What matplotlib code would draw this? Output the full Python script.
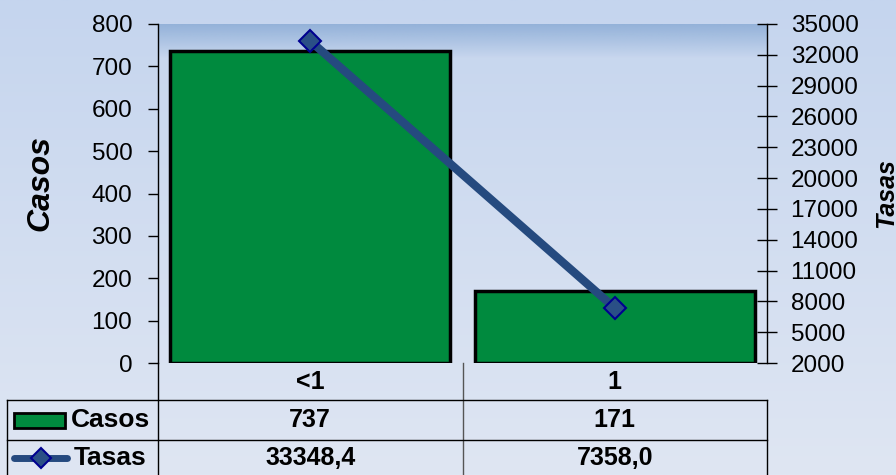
import numpy as np
import matplotlib.pyplot as plt
from matplotlib.patches import Rectangle
from matplotlib.lines import Line2D

plt.rcParams['font.family'] = ['Liberation Sans', 'DejaVu Sans']

categories = ["<1", "1"]
casos = [737, 171]
tasas = [33348.4, 7358.0]
casos_labels = ["737", "171"]
tasas_labels = ["33348,4", "7358,0"]
casos_ticks = [0, 100, 200, 300, 400, 500, 600, 700, 800]
tasas_ticks = [2000, 5000, 8000, 11000, 14000, 17000, 20000, 23000, 26000, 29000, 32000, 35000]

W, H = 896, 475
fig = plt.figure(figsize=(W / 100, H / 100), dpi=100)

# figure background gradient
bg = fig.add_axes([0, 0, 1, 1], zorder=-10)
top_c = np.array([197, 213, 238]) / 255
bot_c = np.array([223, 230, 243]) / 255
t = np.linspace(0, 1, 256)[:, None]
grad = top_c * (1 - t) + bot_c * t
bg.imshow(grad[:, None, :].repeat(2, axis=1), aspect='auto', extent=[0, 1, 0, 1])
bg.axis('off')

def fx(px):
    return px / W

def fy(py):
    return 1 - py / H

left, right, top, bottom = 158, 767, 24, 363
ax = fig.add_axes([fx(left), fy(bottom), fx(right) - fx(left), fy(top) - fy(bottom)])
ax.patch.set_alpha(0)

x = np.arange(len(categories))
ax.set_xlim(-0.5, len(categories) - 0.5)
ax.set_ylim(0, 800)

# top band gradient inside plot area
band_top = np.array([148, 178, 217]) / 255
tb = np.linspace(0, 1, 64)[:, None]
band_a = np.concatenate([np.repeat(band_top[None, :], 64, axis=0), 1 - tb], axis=1)
ax.imshow(band_a[:, None, :].repeat(2, axis=1), aspect='auto',
          extent=[-0.5, len(categories) - 0.5, 720, 800], zorder=0)

ax.bar(x, casos, width=0.92, color='#008a3e', edgecolor='black', linewidth=2.5, zorder=2)

tick_fs = 17.5
ax.set_yticks(casos_ticks)
ax.set_yticklabels([str(v) for v in casos_ticks], fontsize=tick_fs)
ax.set_xticks([])
for s in ['top', 'right', 'bottom']:
    ax.spines[s].set_visible(False)
ax.spines['left'].set_linewidth(1)
ax.tick_params(axis='y', length=7, width=1, direction='out', pad=11.5)

fig.text(fx(40), fy(183), "Casos", rotation=90, fontsize=23, fontweight='bold',
         style='italic', ha='center', va='center')

ax2 = ax.twinx()
ax2.set_ylim(2000, 35000)
ax2.plot(x, tasas, color='#254a7f', linewidth=6, solid_capstyle='round', zorder=3)
ax2.plot(x, tasas, linestyle='none', marker='D', markersize=11,
         markerfacecolor='#2a4f86', markeredgecolor='#000090', markeredgewidth=1.5, zorder=4)
ax2.set_yticks(tasas_ticks)
ax2.set_yticklabels([str(v) for v in tasas_ticks], fontsize=tick_fs)
for s in ['top', 'left', 'bottom']:
    ax2.spines[s].set_visible(False)
ax2.spines['right'].set_linewidth(1)
ax2.tick_params(axis='y', length=14, width=1, direction='inout', pad=10)
ax2.set_xlim(-0.5, len(categories) - 0.5)

fig.text(fx(886), fy(193), "Tasas", rotation=90, fontsize=18, fontweight='bold',
         style='italic', ha='center', va='center')

# data table below the chart
to_fig = lambda xd: fig.transFigure.inverted().transform(ax.transData.transform((xd, 0)))[0]
lc = 'black'
fig.add_artist(Line2D([fx(left), fx(left)], [fy(363), fy(475)], color=lc, lw=1))
fig.add_artist(Line2D([to_fig(0.5), to_fig(0.5)], [fy(363), fy(475)], color='#555555', lw=1))
fig.add_artist(Line2D([fx(right), fx(right)], [fy(400), fy(475)], color=lc, lw=1))
fig.add_artist(Line2D([fx(7), fx(7)], [fy(400), fy(475)], color=lc, lw=1))
for yy in [400, 440]:
    fig.add_artist(Line2D([fx(7), fx(right)], [fy(yy), fy(yy)], color=lc, lw=1))

cell_fs = 18
for i, cat in enumerate(categories):
    cx = to_fig(i)
    fig.text(cx, fy(382), cat, ha='center', va='center', fontsize=cell_fs, fontweight='bold')
    fig.text(cx, fy(420), casos_labels[i], ha='center', va='center', fontsize=cell_fs, fontweight='bold')
    fig.text(cx, fy(458), tasas_labels[i], ha='center', va='center', fontsize=cell_fs, fontweight='bold')

# legend keys in the table
fig.add_artist(Rectangle((fx(14), fy(428)), fx(65) - fx(14), fy(413) - fy(428),
                         facecolor='#008a3e', edgecolor='black', lw=2, transform=fig.transFigure))
fig.text(fx(71), fy(420), "Casos", ha='left', va='center', fontsize=19, fontweight='bold')
fig.add_artist(Line2D([fx(14), fx(67)], [fy(458), fy(458)], color='#254a7f', lw=5,
                      solid_capstyle='round'))
fig.add_artist(Line2D([fx(41)], [fy(458)], marker='D', markersize=10, linestyle='none',
                      markerfacecolor='#2a4f86', markeredgecolor='#000090', markeredgewidth=1.5))
fig.text(fx(74), fy(458), "Tasas", ha='left', va='center', fontsize=19, fontweight='bold')

fig.savefig("out.png", dpi=100)
